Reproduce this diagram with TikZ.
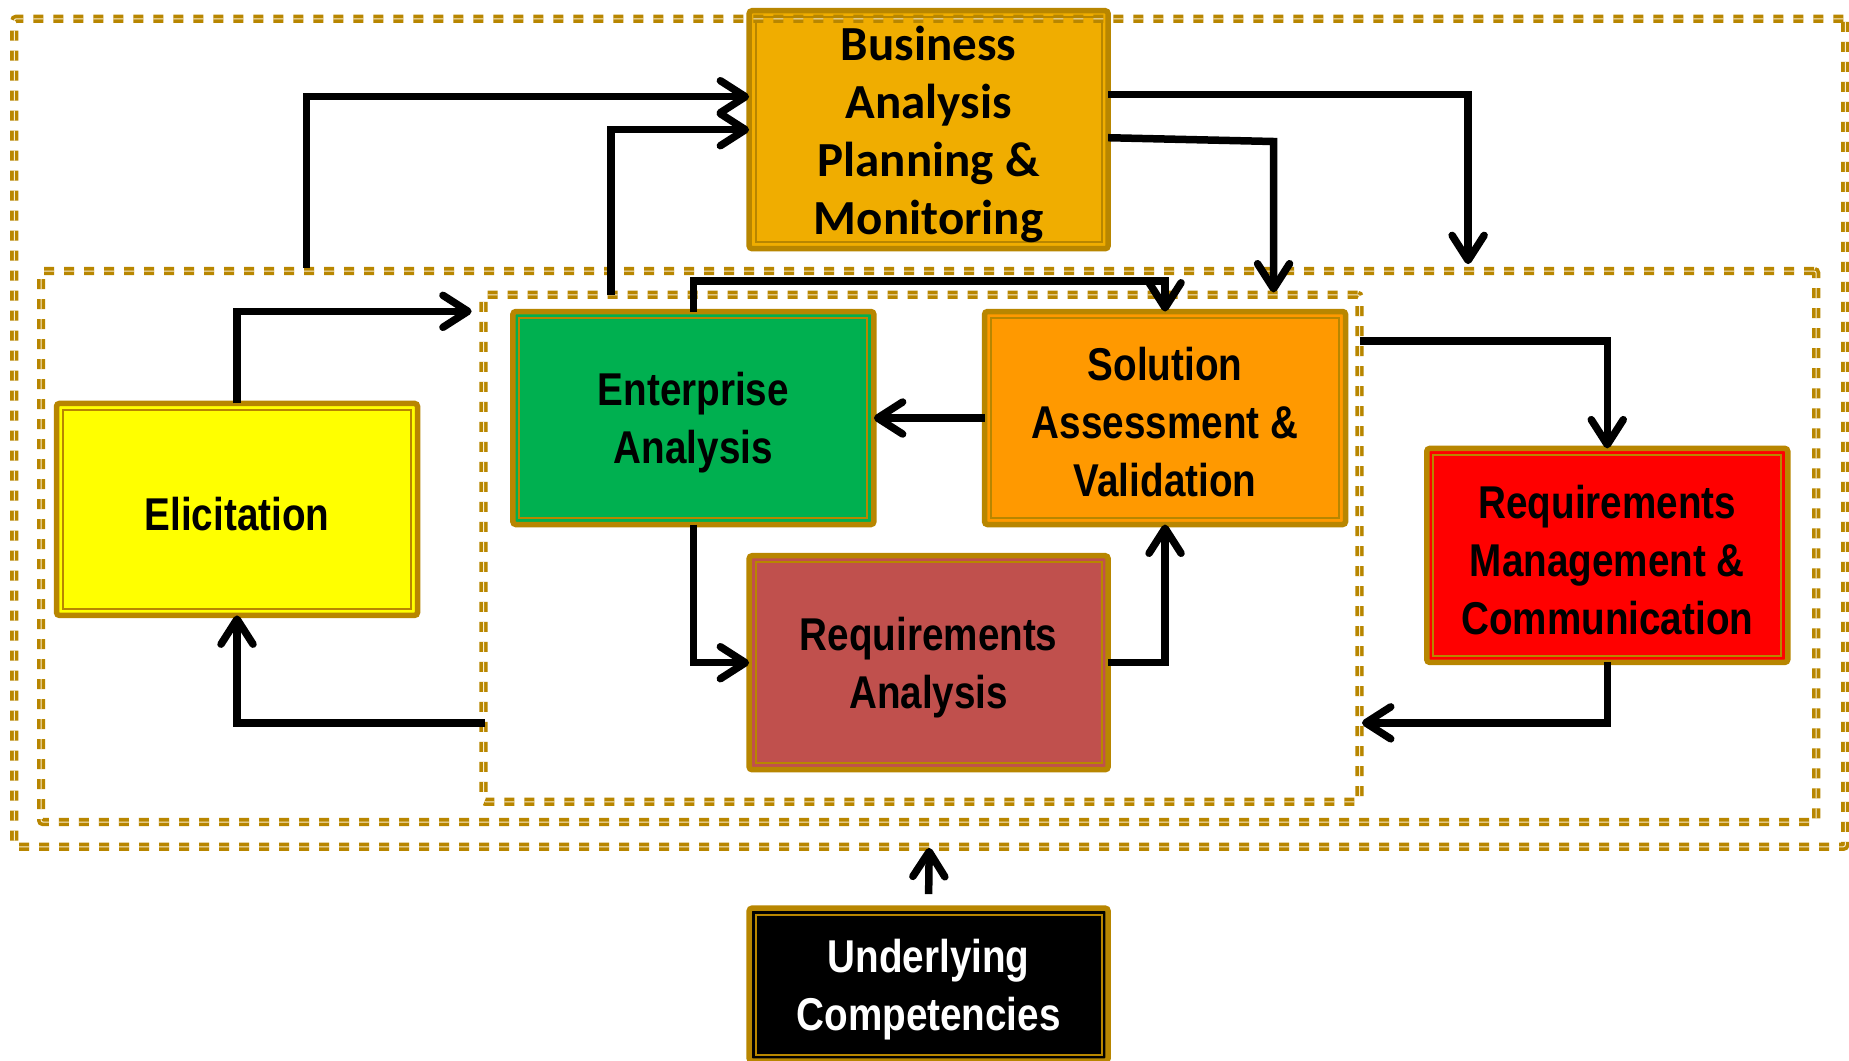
\documentclass[tikz,border=0pt]{standalone}
\usepackage{fontspec}
\usetikzlibrary{arrows.meta}
\newfontfamily\narrowfont[FakeStretch=0.84]{Liberation Sans Bold}
\newfontfamily\calfont{Carlito Bold}
\definecolor{gold}{RGB}{184,134,0}
\definecolor{goldlight}{RGB}{250,238,205}
\definecolor{bafill}{RGB}{240,173,0}
\definecolor{elfill}{RGB}{255,255,0}
\definecolor{enfill}{RGB}{0,176,80}
\definecolor{sofill}{RGB}{255,153,0}
\definecolor{rafill}{RGB}{192,80,77}
\definecolor{rmfill}{RGB}{255,0,0}
\begin{document}
\begin{tikzpicture}[x=1.1792pt,y=-1.1792pt,
  procbox/.style={rectangle, draw=gold, line width=5.5pt, rounded corners=3pt,
    outer sep=0pt, inner sep=0pt},
  boxtext/.style={align=center, inner sep=0pt, yshift=-4.5pt,
    font=\narrowfont\fontsize{46pt}{58pt}\selectfont},
  innerline/.style={draw=gold, line width=1.8pt},
  dashbox/.style={rectangle, draw=gold, line width=3.6pt, double=goldlight,
    double distance=1pt, dash pattern=on 10pt off 10pt, outer sep=0pt,
    inner sep=0pt, rounded corners=2pt},
  flow/.style={line width=7.5pt, line join=miter,
    -{Straight Barb[length=25pt,width=32pt,round]}}]
\useasboundingbox (0,0) rectangle (1568,899);
\fill[white] (0,0) rectangle (1568,899);

% process boxes
\node[procbox, fill=bafill, minimum width=359pt, minimum height=238pt] (ba) at (787.5,110) {};
\node[procbox, fill=elfill, minimum width=361pt, minimum height=212pt] (el) at (201,432) {};
\node[procbox, fill=enfill, minimum width=361pt, minimum height=213pt] (en) at (588,354.5) {};
\node[procbox, fill=sofill, minimum width=361pt, minimum height=213pt] (so) at (988,354.5) {};
\node[procbox, fill=rafill, minimum width=359pt, minimum height=214pt] (ra) at (787.5,562) {};
\node[procbox, fill=rmfill, minimum width=361pt, minimum height=214pt] (rm) at (1363,471) {};
\node[procbox, fill=black, minimum width=359pt, minimum height=153pt] (uc) at (787.5,835) {};

\foreach \n in {ba,el,en,so,ra,rm,uc}{
  \draw[innerline] ([xshift=6.5pt,yshift=-6.5pt]\n.north west) rectangle ([xshift=-6.5pt,yshift=6.5pt]\n.south east);
}

% box texts
\node[boxtext, font=\calfont\fontsize{49pt}{58pt}\selectfont] (bat) at (ba.center)
  {Business\\Analysis\\Planning \&\\Monitoring};
\node[boxtext] (elt) at (el.center) {Elicitation};
\node[boxtext] (ent) at (en.center) {Enterprise\\Analysis};
\node[boxtext] (sot) at (so.center) {Solution\\Assessment \&\\Validation};
\node[boxtext] (rat) at (ra.center) {Requirements\\Analysis};
\node[boxtext] (rmt) at (rm.center) {Requirements\\Management \&\\Communication};
\node[boxtext, text=white] (uct) at (uc.center) {Underlying\\Competencies};

% dashed frames
\node[dashbox, minimum width=1831pt, minimum height=828pt] (outer) at (788.5,367) {};
\node[dashbox, minimum width=1775pt, minimum height=551pt] (mid) at (787.5,463.5) {};
\node[dashbox, minimum width=876pt, minimum height=507pt] (inner) at (781.5,465) {};

% free ends on the frames
\coordinate (c1) at (260,227);
\coordinate (c2) at (518,250);
\coordinate (c3) at (1245,224);
\coordinate (k4) at (1080,120);
\coordinate (c4) at (1080,248);
\coordinate (c6) at (400,264);
\coordinate (c10) at (1153,289);
\coordinate (c11) at (1155,613);
\coordinate (c12) at (411,613);
\coordinate (c13) at (788,719);

% connectors
\draw[flow] (c1) |- ([yshift=33pt]ba.west);
\draw[flow] (c2) |- (ba.west);
\draw[flow] ([yshift=35pt]ba.east) -| (c3);
\draw[flow] ([yshift=-8pt]ba.east) -- (k4) -- (c4);
\draw[flow] (en.north) -- ++(0,-26) -| (so.north);
\draw[flow] (el.north) |- (c6);
\draw[flow] (so.west) -- (en.east);
\draw[flow] (en.south) |- (ra.west);
\draw[flow] (ra.east) -| (so.south);
\draw[flow] (c10) -| (rm.north);
\draw[flow] (rm.south) |- (c11);
\draw[flow] (c12) -| (el.south);
\draw[flow] ([yshift=14pt]uc.north) -- (c13);
\end{tikzpicture}
\end{document}
